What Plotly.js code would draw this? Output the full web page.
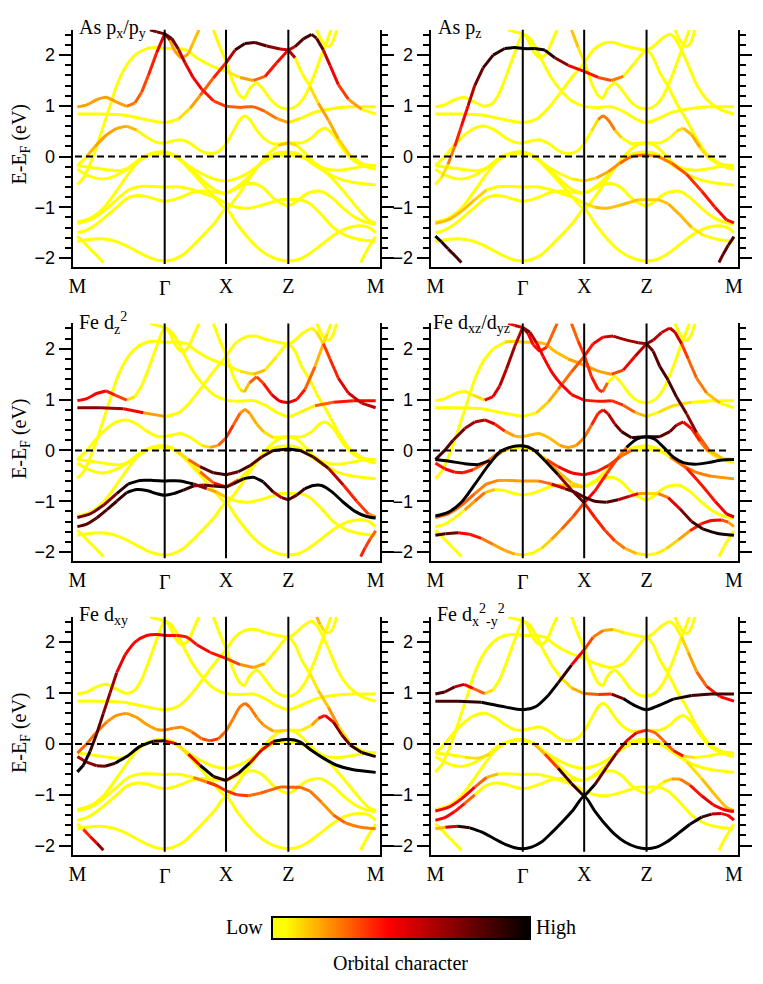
<!DOCTYPE html>
<html><head><meta charset="utf-8">
<script src="https://cdn.plot.ly/plotly-3.0.1.min.js"></script>
<style>html,body{margin:0;padding:0;background:#fff}</style></head>
<body><div id="chart" style="width:763px;height:984px"></div>
<script>
// Path coordinate k: M=232, Gamma=494, X=678, Z=865, M=1127
const kTicks = [232, 678, 865, 1127];
const kTickLabels = ['M', 'X', 'Z', 'M'];
const kSym = [494, 678, 865];

// Band energies (eV)
const A_k = [232,262,300,335,370,405,440,470,494,520,550,580,610,645,678,710,740,770,800,835,865,895,925,960,995,1030,1060,1090,1110,1127];
const A_e = [-1.67,-1.64,-1.62,-1.65,-1.73,-1.85,-1.97,-2.04,-2.06,-2.03,-1.93,-1.75,-1.55,-1.30,-1.03,-1.32,-1.57,-1.78,-1.93,-2.03,-2.06,-2.03,-1.93,-1.76,-1.58,-1.44,-1.38,-1.37,-1.41,-1.50];
const H1_k = [232,250,270,290,310];
const H1_e = [-1.57,-1.68,-1.82,-1.95,-2.09];
const H2_k = [1082,1095,1110,1127];
const H2_e = [-2.09,-1.92,-1.75,-1.58];
const B_k = [232,260,290,320,350,380,410,440,470,494,520,550,580,610,640,678,700,730,760,790,820,845,865,890,915,940,965,995,1030,1065,1100,1127];
const B_e = [-1.50,-1.45,-1.33,-1.17,-1.0,-.83,-.77,-.79,-.85,-.88,-.85,-.78,-.70,-.68,-.70,-.72,-.66,-.56,-.53,-.62,-.82,-.93,-.97,-.88,-.75,-.69,-.69,-.81,-1.02,-1.2,-1.3,-1.33];
const C_k = [232,270,310,350,385,420,460,494,540,580,620,650,678,710,745,780,815,840,865,900,930,965,1000,1035,1075,1127];
const C_e = [-1.32,-1.25,-1.08,-.85,-.66,-.59,-.59,-.6,-.6,-.66,-.75,-.82,-.92,-1.0,-1.02,-.97,-.9,-.85,-.85,-.85,-.93,-1.15,-1.4,-1.55,-1.63,-1.67];
const D_k = [232,270,310,350,390,425,460,494,525,560,600,640,678,710,745,775,805,835,865,890,915,945,975,1010,1050,1090,1127];
const D_e = [-1.29,-1.22,-1.02,-.67,-.3,-.03,.07,.09,.02,-.2,-.48,-.78,-1.03,-.8,-.46,-.18,.06,.22,.27,.22,.07,-.13,-.24,-.27,-.24,-.19,-.18];
const E_k = [232,260,290,315,345,380,420,460,494,530,565,600,640,678,715,750,785,820,865,900,935,970,1010,1060,1127];
const E_e = [-.25,-.36,-.43,-.44,-.38,-.25,-.05,.05,.06,0,-.2,-.42,-.64,-.72,-.58,-.37,-.12,.05,.09,.04,-.13,-.28,-.42,-.51,-.56];
const F_k = [232,270,320,360,395,430,460,494,530,565,600,640,678,715,750,785,820,865,900,940,985,1030,1070,1105,1127];
const F_e = [-.18,-.21,-.26,-.28,-.2,-.03,.06,.08,-.02,-.18,-.32,-.44,-.48,-.42,-.3,-.13,0,.03,0,-.13,-.35,-.68,-1.0,-1.25,-1.31];
const G_k = [232,250,270,290,310,330,350,375,405,440,470,494,530,560,590,630,678,720,760,795,830,865,885,905,930,955,985,1015,1050,1090,1127];
const G_e = [-.55,-.42,-.15,.2,.6,1.0,1.4,1.75,2.0,2.13,2.15,2.13,2.13,2.1,1.95,1.8,1.68,1.56,1.5,1.58,1.85,2.1,1.95,1.65,1.38,1.05,.72,.35,.02,-.15,-.18];
const I_k = [232,260,285,320,350,380,410,440,470,494,520,545,575,605,630,655,678,700,720,735,750,770,790,820,865,905,935,955,975,1000,1025,1050,1085,1127];
const I_e = [-.18,0,.2,.43,.56,.6,.52,.38,.28,.27,.31,.33,.24,.1,.06,.1,.25,.5,.73,.8,.72,.52,.37,.25,.27,.27,.37,.5,.56,.43,.18,-.02,-.17,-.25];
const K_k = [232,260,290,318,345,380,405,425,445,470,494,510,525,545,565,580,597];
const K_e = [.98,1.02,1.12,1.17,1.09,.99,1.06,1.27,1.6,2.05,2.42,2.3,2.08,1.95,2.03,2.25,2.5];
const N_k = [450,470,494,515,535,555,580,605,640,678,720,760,795,830,865,900,945,1000,1060,1127];
const N_e = [2.5,2.46,2.42,2.33,2.12,1.85,1.55,1.33,1.1,.99,.97,.98,.89,.75,.67,.75,.88,.95,.98,.98];
const M_k = [640,660,678,700,720,733,748,770,790,815,840,865,890,915,945,970,982,993];
const M_e = [2.5,2.15,1.88,1.45,1.2,1.15,1.33,1.45,1.32,1.1,.97,.94,1.0,1.2,1.65,2.1,2.3,2.5];
const P_k = [232,300,370,430,494,535,570,600,640,678,705,735,765,800,840,865,885,910,935,950,970,990,1015,1045,1085,1127];
const P_e = [.84,.84,.82,.74,.67,.74,.95,1.2,1.55,1.85,2.1,2.23,2.25,2.18,2.12,2.1,2.17,2.32,2.41,2.33,2.1,1.8,1.42,1.13,.93,.84];
const U_k = [950,960,972,985,997,1010];
const U_e = [2.5,2.35,2.23,2.17,2.25,2.5];

const bandNames = ['A','H1','H2','B','C','D','E','F','G','I','K','N','M','P','U'];
const bandK = {A:A_k,H1:H1_k,H2:H2_k,B:B_k,C:C_k,D:D_k,E:E_k,F:F_k,G:G_k,I:I_k,K:K_k,N:N_k,M:M_k,P:P_k,U:U_k};
const bandE = {A:A_e,H1:H1_e,H2:H2_e,B:B_e,C:C_e,D:D_e,E:E_e,F:F_e,G:G_e,I:I_e,K:K_e,N:N_e,M:M_e,P:P_e,U:U_e};

// Orbital character read along each band: k, character, k, character ...
const pxpy = {
 P:[232,0,535,.1,570,.2,600,.3,640,.4,678,.6,705,.85,765,.8,800,.7,840,.55,865,.6,885,.8,910,.85,950,.8,970,.55,990,.45,1015,.35,1045,.2,1085,.05],
 K:[232,.2,380,.25,405,.3,425,.33,445,.4,470,.5,494,.6,510,.2,580,.15],
 N:[450,.75,494,.8,515,.75,535,.6,555,.47,580,.45,605,.42,640,.35,678,.3,795,.25,830,.2,865,.07,900,.03,945,.06],
 M:[640,.05,678,0],
 G:[232,0,640,.03,678,.08,720,.2,760,.3,795,.42,830,.45,865,.6,885,0,930,.1,955,.2,1015,.12,1050,.03],
 I:[232,0,260,.15,285,.2,380,.15,410,.05,440,0],
 D:[232,0,835,.15,890,0]
};
const pz = {
 G:[232,0,250,.1,270,.25,290,.4,310,.45,330,.6,350,.75,375,.85,405,.9,440,1,560,.9,590,.7,630,.47,678,.42,720,.33,760,.25,795,.05,830,0],
 F:[232,0,640,.07,678,.12,715,.18,750,.22,785,.3,865,.22,900,.25,940,.32,985,.38,1030,.42,1070,.45,1127,.4],
 C:[232,.15,350,.12,385,.02,420,0,650,.03,678,.1,710,.15,840,.12,930,.17,1000,.08,1035,0],
 H1:[232,1,250,.9,270,.85],
 H2:[1082,.75,1110,.85],
 M:[640,.13,678,.05,700,0],
 I:[232,0,700,.1,720,.25,750,.25,770,.12,790,.03,820,0,955,.1,975,.15,1000,.18,1025,.1,1050,.03]
};
const dz2 = {
 K:[232,.45,345,.35,380,.1,405,.03,425,0],
 P:[232,.7,330,.55,370,.45,400,.35,430,.2,470,.05,494,0,950,.1,970,.35,990,.4,1015,.5,1045,.55,1085,.6],
 N:[450,0,900,.07,945,.3,1000,.42,1060,.45],
 M:[640,0,733,.15,748,.3,770,.33,790,.42,815,.5,890,.42,915,.3,945,.15,970,.1,982,0],
 G:[232,0,678,.03,720,.1,760,.15,795,.08,830,0],
 I:[232,0,605,.1,630,.2,655,.3,678,.38,700,.3,720,.22,770,.15,790,.1,820,.02],
 F:[232,0,530,.1,565,.3,600,.8,640,.85,678,.75,715,.85,750,.8,785,.85,820,.95,865,1,900,.9,940,.8,985,.6,1000,.45,1030,.4,1070,.35,1105,.22],
 E:[232,0,565,.05,600,.3,640,.42,678,.3,715,.05,750,0],
 C:[232,.75,310,.7,350,.9,385,1,580,.7,620,.2,678,.03,710,0],
 B:[232,.8,320,.85,350,.9,380,1,580,.6,610,.8,640,.85,678,.75,700,.9,730,1,820,.6,845,.75,865,.8,890,.85,915,1],
 H2:[1082,.4,1110,.3]
};
const dxz = {
 K:[232,0,318,.05,345,.1,380,.45,425,.6,445,.65,470,.6,494,.65,510,.45,545,.4,565,.3],
 N:[450,.45,494,.7,515,.6,535,.47,555,.45,678,.42,760,.38,795,.3,830,.15,865,.05,900,.1,1000,.05,1060,0],
 P:[232,0,494,.03,535,.12,570,.18,600,.28,640,.32,678,.42,705,.45,735,.55,765,.65,865,.7,885,.6,910,.55,935,.6,950,.55,970,.35,990,.3,1015,.25,1045,.15,1085,.03],
 M:[640,.3,660,.35,678,.38,700,.42,720,.4,733,.3,748,0],
 G:[232,0,405,.03,440,.12,530,.15,630,.2,760,.33,795,.45,830,.6,865,.75,885,.8,905,.85,955,.8,985,.7,1015,.3,1050,.15,1090,.05],
 I:[232,.85,260,.8,285,.75,320,.65,350,.6,380,.55,410,.4,440,.2,470,.15,605,.2,678,.28,700,.4,720,.42,735,.5,750,.6,770,.75,790,.85,820,.9,905,.8,935,.75,955,.55,975,.45,1000,.4,1025,.25,1050,.1,1085,.05],
 D:[232,1,560,.95,600,.7,640,.8,678,.45,710,.42,745,.35,775,.25,805,1],
 E:[232,.42,260,.45,315,.42,345,.3,380,.25,420,.1,460,.05,494,0,530,.1,565,.2,600,.15,640,.1,678,.03,715,.05,750,.1,820,.05,935,.2,970,.25,1060,.22,1127,.15],
 F:[232,1,360,.9,395,.25,430,.15,460,.05,530,.1,565,.35,600,.45,715,.42,750,.35,785,.28,820,.05,900,.05,940,.3,985,.42,1070,.45,1105,.55],
 C:[232,.3,350,.25,420,.2,540,.28,580,.55,620,.78,678,.85,780,.6,815,.45,840,.2,865,.1,900,.25,930,.5,965,.75,1000,.85,1035,.95],
 B:[232,0,320,.2,350,.28,380,.15,420,.03,520,0,580,.15,640,.12,678,.03,700,0],
 A:[232,.85,262,.75,300,.45,370,.25,405,.2,470,.1,494,.03,520,.05,550,.12,580,.2,610,.3,645,.33,678,.42,740,.35,770,.25,800,.15,835,.08,865,.03,895,.08,925,.12,960,.2,995,.4,1030,.45,1110,.2]
};
const dxy = {
 G:[232,1,250,.95,270,.85,290,.8,310,.7,330,.65,350,.5,375,.45,530,.42,590,.45,630,.42,678,.35,720,.22,760,.18,795,.05,830,0,945,.12,985,.22,1015,.1,1050,0],
 I:[232,.3,285,.25,320,.22,380,.2,494,.25,545,.22,575,.28,605,.32,630,.35,655,.3,678,.25,735,.28,770,.22,820,.12,865,.05,935,.2,955,.42,975,.5,1000,.7,1025,.75,1050,.9,1085,.95],
 E:[232,.6,260,.7,290,.75,315,.85,345,1,460,.9,494,.5,530,.1,565,.5,600,1,640,.9,678,.75,715,1,770,.1,785,.5,820,1],
 C:[232,0,580,.25,620,.38,710,.35,745,.28,780,.3,930,.25,965,.22,1000,.3,1035,.25,1127,.2],
 H1:[232,0,250,.4,270,.5,290,.7],
 U:[950,.15,985,0]
};
const dx2y2 = {
 A:[232,.15,262,.55,300,.9,335,1,1030,.85,1060,.6,1090,.45],
 P:[232,.85,300,.9,370,1,600,.9,620,.6,640,.45,660,.4,678,.33,705,.25,735,.18,765,.08,800,.02,840,0,970,.12,990,.2,1015,.3,1045,.42,1085,.45],
 N:[450,0,580,.03,605,.1,640,.18,678,.3,720,.38,745,.6,760,.75,795,1,945,.95,1000,.85],
 K:[232,.85,290,.6,318,.45,345,.3,380,.1,405,0],
 D:[232,0,525,.15,560,.35,580,.45,600,.85,640,.9,678,1,710,.8,775,.6,805,.5,835,.4,865,.3,945,.42,975,.1,1010,.05,1050,0],
 F:[232,0,320,.1,395,.05,430,0,940,.05,985,.1,1030,.15],
 C:[232,.45,350,.3,385,.15,420,0],
 B:[232,.45,320,.3,350,.05,380,0,915,.1,940,.2,965,.25,995,.42,1030,.5,1065,.45]
};

const panelCharacter = [pxpy, pz, dz2, dxz, dxy, dx2y2];
const panelTitles = ['As p<sub>x</sub>/p<sub>y</sub>','As p<sub>z</sub>','Fe d<sub>z</sub><sup>2</sup>','Fe d<sub>xz</sub>/d<sub>yz</sub>','Fe d<sub>xy</sub>','Fe d<sub>x</sub><sup>2</sup><sub>-y</sub><sup>2</sup>'];
const titleLeft = [77, 436, 77, 431, 77, 435];
const titleTop = [29, 29, 323, 323, 615, 615];
const yTitleCentre = [144.5, 439, 733];

const colX = [[72.7,380],[430.7,738.3]];
const rowY = [[29.8,267.3],[323.4,561.4],[616.7,855]];
const W = 763, H = 984;
const blendWindow = 40;
const serif = '"Liberation Serif",serif';
const heatStops = [[0,[255,255,0]],[.05,[255,255,0]],[.45,[255,0,0]],[1,[0,0,0]]];
function colorOf(c){
  for(let i=1;i<heatStops.length;i++){
    if(c<=heatStops[i][0]){
      const [a,ca]=heatStops[i-1],[b,cb]=heatStops[i],t=(c-a)/(b-a);
      return 'rgb('+ca.map((v,j)=>Math.round(v+(cb[j]-v)*t)).join(',')+')';
    }
  }
  return 'rgb(0,0,0)';
}
const traces=[], annotations=[], layout={
  width:W,height:H,margin:{l:0,r:0,t:0,b:0},paper_bgcolor:'#fff',plot_bgcolor:'#fff',showlegend:false,
  font:{family:serif,color:'#000',size:20}
};
panelCharacter.forEach((chars,p)=>{
  const col=p%2,row=Math.floor(p/2),id=p+1,xa=id===1?'x':'x'+id,ya=id===1?'y':'y'+id;
  const runs=[];
  bandNames.forEach(name=>{
    const ks=bandK[name],es=bandE[name],st=chars[name]||[ks[0],0];
    const at=k=>{
      let i=-2;
      for(let j=0;j<st.length;j+=2){if(st[j]<=k)i=j;}
      if(i<0)return st[1];
      const a=st[i+1];
      if(i+2>=st.length)return a;
      const nk=st[i+2],b=st[i+3],gap=nk-k;
      if(gap>=blendWindow)return a;
      const w=Math.min(nk-st[i],blendWindow);
      const t=Math.max(0,1-gap/w);
      return Math.round((a+(b-a)*t)*50)/50;
    };
    let s=0;
    for(let i=1;i<ks.length;i++){
      if(i===ks.length-1||at(ks[i])!==at(ks[s])){
        runs.push({c:at(ks[s]),x:ks.slice(s,i+1),y:es.slice(s,i+1)});
        s=i;
      }
    }
  });
  runs.sort((a,b)=>a.c-b.c);
  runs.forEach(r=>traces.push({type:'scatter',mode:'lines',x:r.x,y:r.y,xaxis:xa,yaxis:ya,hoverinfo:'skip',
    line:{color:colorOf(r.c),width:3,shape:'spline',smoothing:.7}}));
  traces.push({type:'scatter',mode:'lines',x:[225,1115],y:[0,0],xaxis:xa,yaxis:ya,hoverinfo:'skip',
    line:{color:'#000',width:2,dash:'7px,4px'}});
  kSym.forEach(k=>traces.push({type:'scatter',mode:'lines',x:[k,k],y:[-2.12,2.55],xaxis:xa,yaxis:ya,cliponaxis:false,hoverinfo:'skip',
    line:{color:'#000',width:2}}));
  layout['xaxis'+(id===1?'':id)]={
    domain:[colX[col][0]/W,colX[col][1]/W],range:[218,1140],anchor:ya,fixedrange:true,
    showgrid:false,zeroline:false,showline:true,linecolor:'#000',linewidth:2,
    tickmode:'array',tickvals:kTicks,ticktext:kTickLabels,ticks:'',ticklabelstandoff:0,
    tickfont:{family:serif,size:20,color:'#000'}
  };
  layout['yaxis'+(id===1?'':id)]={
    domain:[1-rowY[row][1]/H,1-rowY[row][0]/H],range:[-2.184,2.5],anchor:xa,fixedrange:true,
    showgrid:false,zeroline:false,showline:true,linecolor:'#000',linewidth:2,mirror:'ticks',
    tickmode:'linear',tick0:0,dtick:1,ticks:'outside',ticklen:12,tickwidth:2,tickcolor:'#000',
    minor:{dtick:.2,ticks:'outside',ticklen:6,tickwidth:2,tickcolor:'#000',showgrid:false},
    ticklabelstandoff:0,tickfont:{family:'"Liberation Sans",Arial,sans-serif',size:18,color:'#000'}
  };
  if(col===0){
    annotations.push({xref:'paper',yref:'paper',x:20/W,y:1-yTitleCentre[row]/H,xanchor:'center',yanchor:'middle',textangle:-90,showarrow:false,
      text:'E-E<sub>F</sub> (eV)',font:{family:serif,size:20,color:'#000'}});
  }
  annotations.push({xref:'paper',yref:'paper',x:titleLeft[p]/W,y:1-titleTop[p]/H,xanchor:'left',yanchor:'middle',showarrow:false,
    text:panelTitles[p],font:{family:serif,size:20,color:'#000'}});
  annotations.push({xref:xa,yref:'paper',x:494,y:1-(rowY[row][1]+20.5)/H,xanchor:'center',yanchor:'middle',showarrow:false,
    text:'Γ',font:{family:serif,size:20,color:'#000'}});
});
// colour bar
traces.push({type:'scatter',mode:'markers',x:[500],y:[0],hoverinfo:'skip',xaxis:'x',yaxis:'y',
  marker:{size:1,opacity:0,color:[0],cmin:0,cmax:1,
    colorscale:heatStops.map(s=>[s[0],'rgb('+s[1].join(',')+')']),showscale:true,
    colorbar:{orientation:'h',x:401/W,xanchor:'center',y:1-928.5/H,yanchor:'middle',thickness:22,thicknessmode:'pixels',
      len:258,lenmode:'pixels',outlinewidth:2,outlinecolor:'#000',borderwidth:0,xpad:0,ypad:0,ticks:'',showticklabels:false}}});
annotations.push({xref:'paper',yref:'paper',x:265/W,y:1-927/H,xanchor:'right',yanchor:'middle',showarrow:false,text:'Low',font:{size:20,family:serif,color:'#000'}});
annotations.push({xref:'paper',yref:'paper',x:534/W,y:1-927/H,xanchor:'left',yanchor:'middle',showarrow:false,text:'High',font:{size:20,family:serif,color:'#000'}});
annotations.push({xref:'paper',yref:'paper',x:400/W,y:1-963/H,xanchor:'center',yanchor:'middle',showarrow:false,text:'Orbital character',font:{size:20,family:serif,color:'#000'}});
layout.annotations=annotations;
Plotly.newPlot('chart',traces,layout,{displayModeBar:false,responsive:false});
</script></body></html>
